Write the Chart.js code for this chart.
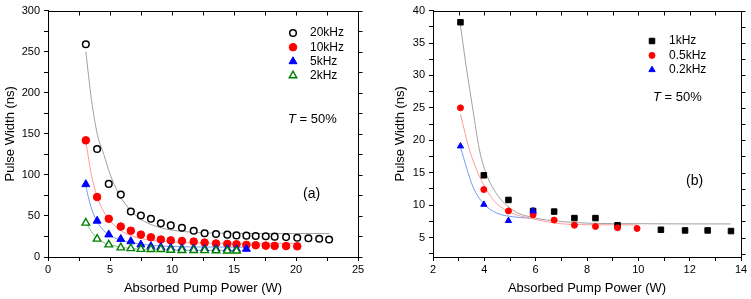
<!DOCTYPE html>
<html>
<head>
<meta charset="utf-8">
<script src="https://cdn.jsdelivr.net/npm/chart.js@4.4.1/dist/chart.umd.js"></script>
<style>
  body { margin: 0; background: #fff; }
  #wrapA { position: absolute; left: 0; top: 0; width: 385px; height: 299px; }
  #wrapB { position: absolute; left: 390px; top: 0; width: 361px; height: 299px; }
</style>
</head>
<body>
<div id="wrapA"><canvas id="chartA"></canvas></div>
<div id="wrapB"><canvas id="chartB"></canvas></div>
<script>
// ---- panel (a): measured pulse widths ----
const powerA = [3.05, 3.96, 4.9, 5.87, 6.68, 7.49, 8.3, 9.1, 9.9, 10.8, 11.75, 12.63, 13.55, 14.46, 15.2, 16.0, 16.75, 17.56, 18.28, 19.2, 20.1, 21.0, 21.87, 22.67];
const width20k = [259, 131.5, 89, 76, 55.4, 50.6, 46.5, 41, 38.5, 35.6, 32, 29, 28, 27.2, 26.3, 26, 25.5, 25.2, 24.8, 24.2, 23.5, 22.8, 22.3, 21.3];
const width10k = [142, 73, 46.5, 37, 32, 27.2, 24, 21.3, 20.2, 19.5, 18.7, 17.5, 16.5, 16, 15.5, 14.8, 14.3, 13.8, 13.5, 13.3, 13];
const width5k = [88.5, 44, 27.3, 21.8, 19, 15, 13, 12, 11, 10.5, 10.2, 10, 9.8, 9.7, 9.6, 9.8];
const width2k = [41.5, 22, 15, 11.4, 10.5, 9.5, 9.3, 9.3, 8.5, 8.2, 8.2, 8, 7.8, 7.5, 7.5];

// ---- panel (a): fitted curves ----
const fitPower20k = [3.05, 3.5, 4.0, 4.5, 5.0, 5.5, 6.0, 7.0, 8.0, 9.0, 10.0, 11.0, 12.0, 14.0, 17.0, 22.7];
const fitWidth20k = [250, 192, 148, 125, 101, 83, 69.5, 51.7, 41.6, 35.9, 32.7, 30.9, 29.8, 28.9, 28.6, 28.5];
const fitPower10k = [3.05, 3.5, 4.0, 4.5, 5.0, 5.5, 6.0, 7.0, 8.0, 9.0, 10.0, 12.0, 15.0, 20.1];
const fitWidth10k = [141, 100, 72, 55, 44, 36.5, 31, 24.5, 21, 19.3, 18.2, 17.2, 16.7, 16.5];
const fitPower5k = [3.05, 3.3, 3.6, 4.0, 4.5, 5.0, 5.8, 6.6, 7.4, 8.5, 10.0, 12.0, 16.0];
const fitWidth5k = [87, 70, 55, 42, 32, 26, 21, 18, 16, 14, 12.8, 12.2, 12];
const fitPower2k = [3.05, 3.64, 4.18, 5.25, 6.6, 8.0, 10.0, 15.2];
const fitWidth2k = [42, 28, 20, 14, 10.5, 9, 8.3, 8];

// ---- panel (b): measured pulse widths ----
const powerB1k = [3.07, 3.98, 4.94, 5.9, 6.72, 7.51, 8.33, 9.19, 10.88, 11.82, 12.7, 13.61];
const width1k = [38.2, 14.6, 10.8, 9.1, 9.0, 8.0, 8.0, 6.9, 6.2, 6.1, 6.1, 6.0];
const powerB05k = [3.07, 3.98, 4.94, 5.9, 6.72, 7.51, 8.33, 9.19, 9.95];
const width05k = [25, 12.4, 9.1, 8.5, 7.7, 6.9, 6.7, 6.5, 6.4];
const powerB02k = [3.07, 3.98, 4.94, 5.9];
const width02k = [19.1, 10.1, 7.6, 9.1];

// ---- panel (b): fitted curves ----
const fitPower1k = [3.07, 3.3, 3.56, 3.8, 4.02, 4.47, 5.12, 5.77, 7.07, 9.0, 13.6];
const fitWidth1k = [37.7, 31.2, 24.6, 18.7, 15.4, 11.8, 9.2, 8.2, 7.45, 7.15, 7.1];
const fitPower05k = [3.07, 3.43, 3.95, 4.47, 5.12, 5.77, 7.07, 8.5, 9.95];
const fitWidth05k = [24, 18.4, 13.3, 10.3, 8.7, 8.0, 7.1, 6.97, 6.95];
const fitPower02k = [3.07, 3.56, 3.98, 4.47, 5.12, 5.77, 5.9];
const fitWidth02k = [18.9, 12.8, 10.2, 8.8, 8.2, 8.0, 7.98];

const FONT = 'Liberation Sans, Arial, sans-serif';
const pts = (xs, ys) => ys.map((y, i) => ({ x: xs[i], y }));

function markers(label, xs, ys, style, radius, fill, stroke, bw, order) {
  return {
    label, data: pts(xs, ys), pointStyle: style, pointRadius: radius,
    backgroundColor: fill, borderColor: stroke, borderWidth: bw,
    pointBorderWidth: bw, order, isMarker: true
  };
}

function fitLine(xs, ys, color) {
  return {
    data: pts(xs, ys), showLine: true, pointRadius: 0, borderColor: color,
    borderWidth: 1, cubicInterpolationMode: 'monotone', order: 10
  };
}

const labelEvery = every => v => (Math.abs(v / every - Math.round(v / every)) < 1e-6 ? v : '');

function axes(o) {
  const tickFont = { family: FONT, size: 11 };
  const titleFont = { family: FONT, size: 13 };
  return {
    x: {
      type: 'linear', min: o.xMin, max: o.xMax,
      afterFit: s => { s.height = 42; },
      ticks: { stepSize: o.xStep, callback: labelEvery(o.xLabel), color: '#000', font: tickFont,
               padding: 2, autoSkip: false, maxRotation: 0, includeBounds: false },
      grid: { drawOnChartArea: false, color: '#000', tickLength: 4 },
      border: { color: '#000', width: 1 },
      title: { display: true, text: 'Absorbed Pump Power (W)', color: '#000', font: titleFont,
               padding: { top: 0, bottom: 3 } }
    },
    y: {
      type: 'linear', min: o.yMin, max: o.yMax,
      afterFit: s => { s.width = o.yWidth; },
      ticks: { stepSize: o.yStep, callback: labelEvery(o.yLabel), color: '#000', font: tickFont,
               padding: 4, autoSkip: false, includeBounds: false },
      grid: { drawOnChartArea: false, color: '#000', tickLength: 4 },
      border: { color: '#000', width: 1 },
      title: { display: true, text: 'Pulse Width (ns)', color: '#000', font: titleFont,
               padding: { top: 3, bottom: 0 } }
    }
  };
}

// frame, mirrored ticks, legend and notes
const decorPlugin = {
  id: 'decor',
  afterDatasetsDraw(chart, args, opts) {
    const { ctx, chartArea: a, scales: { x, y } } = chart;
    const L = Math.round(a.left) + 0.5, R = Math.round(a.right) + 0.5;
    const T = Math.round(a.top) + 0.5, B = Math.round(a.bottom) + 0.5;
    ctx.save();
    ctx.strokeStyle = '#000';
    ctx.lineWidth = 1;
    ctx.beginPath();
    ctx.moveTo(L, T); ctx.lineTo(R, T); ctx.lineTo(R, B);
    x.ticks.forEach(t => {
      const px = Math.round(x.getPixelForValue(t.value)) + 0.5;
      ctx.moveTo(px, T); ctx.lineTo(px, T + 4);
    });
    y.ticks.forEach(t => {
      const py = Math.round(y.getPixelForValue(t.value)) + 0.5;
      ctx.moveTo(R, py); ctx.lineTo(R + 4, py);
    });
    ctx.stroke();

    // legend
    const lg = opts.legend;
    ctx.font = '12px ' + FONT;
    ctx.textBaseline = 'middle';
    ctx.textAlign = 'left';
    chart.data.datasets.filter(d => d.isMarker).forEach((d, i) => {
      const yy = lg.y + i * lg.dy;
      ctx.fillStyle = d.backgroundColor;
      ctx.strokeStyle = d.borderColor;
      ctx.lineWidth = d.borderWidth;
      Chart.helpers.drawPoint(ctx, { pointStyle: d.pointStyle, radius: d.pointRadius, rotation: 0,
                                     borderWidth: d.borderWidth }, lg.x, yy);
      ctx.fillStyle = '#000';
      ctx.fillText(d.label, lg.textX, yy);
    });

    // T = 50%
    const n = opts.note;
    ctx.fillStyle = '#000';
    ctx.font = 'italic 13px ' + FONT;
    ctx.fillText('T', n.x, n.y);
    const tw = ctx.measureText('T').width;
    ctx.font = '13px ' + FONT;
    ctx.fillText(' = 50%', n.x + tw, n.y);

    ctx.font = '14px ' + FONT;
    ctx.fillText(opts.tag.text, opts.tag.x, opts.tag.y);
    ctx.restore();
  }
};

Chart.register(decorPlugin);

new Chart(document.getElementById('chartA'), {
  type: 'scatter',
  data: {
    datasets: [
      markers('20kHz', powerA, width20k, 'circle', 3.3, '#fff', '#000', 1.5, 3),
      markers('10kHz', powerA, width10k, 'circle', 3.8, '#ff0000', '#ff0000', 1, 2),
      markers('5kHz', powerA, width5k, 'triangle', 4.6, '#0000ff', '#0000ff', 1, 1),
      markers('2kHz', powerA, width2k, 'triangle', 4.4, '#fff', '#008000', 1.4, 0),
      fitLine(fitPower20k, fitWidth20k, '#a0a0a0'),
      fitLine(fitPower10k, fitWidth10k, '#ff9a9a'),
      fitLine(fitPower5k, fitWidth5k, '#6f9ef5'),
      fitLine(fitPower2k, fitWidth2k, '#7cc47c')
    ]
  },
  options: {
    responsive: true, maintainAspectRatio: false, animation: false,
    layout: { padding: { top: 9, right: 27, left: 0, bottom: 0 } },
    scales: axes({ xMin: 0, xMax: 25, xStep: 2.5, xLabel: 5, yMin: 0, yMax: 300, yStep: 25, yLabel: 50, yWidth: 48 }),
    plugins: {
      legend: { display: false },
      tooltip: { enabled: false },
      decor: {
        legend: { x: 293, textX: 310, y: 33, dy: 14.2 },
        note: { x: 288, y: 119 },
        tag: { text: '(a)', x: 303, y: 194 }
      }
    }
  }
});

new Chart(document.getElementById('chartB'), {
  type: 'scatter',
  data: {
    datasets: [
      markers('1kHz', powerB1k, width1k, 'rect', 3.9, '#000', '#000', 1, 2),
      markers('0.5kHz', powerB05k, width05k, 'circle', 3, '#ff0000', '#ff0000', 1, 1),
      markers('0.2kHz', powerB02k, width02k, 'triangle', 3.6, '#0000ff', '#0000ff', 1, 0),
      fitLine(fitPower1k, fitWidth1k, '#a0a0a0'),
      fitLine(fitPower05k, fitWidth05k, '#ff9a9a'),
      fitLine(fitPower02k, fitWidth02k, '#6f9ef5')
    ]
  },
  options: {
    responsive: true, maintainAspectRatio: false, animation: false,
    layout: { padding: { top: 9, right: 10, left: 0, bottom: 0 } },
    scales: axes({ xMin: 2, xMax: 14, xStep: 1, xLabel: 2, yMin: 2, yMax: 40, yStep: 2.5, yLabel: 5, yWidth: 43 }),
    plugins: {
      legend: { display: false },
      tooltip: { enabled: false },
      decor: {
        legend: { x: 262, textX: 279, y: 41, dy: 14.4 },
        note: { x: 263, y: 97 },
        tag: { text: '(b)', x: 296, y: 181 }
      }
    }
  }
});
</script>
</body>
</html>
